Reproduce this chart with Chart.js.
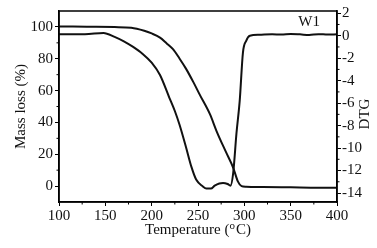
<!DOCTYPE html>
<html>
<head>
<meta charset="utf-8">
<script src="https://cdn.jsdelivr.net/npm/chart.js@4.4.0/dist/chart.umd.min.js"></script>
<style>
  html, body { margin: 0; padding: 0; background: #fff; }
</style>
</head>
<body>
<canvas id="chart1" width="377" height="248"></canvas>
<script>
// TG curve (mass loss, left axis)
const tgTemp = [100, 130, 160, 178, 192, 200, 209, 216, 223, 230, 237, 245, 252, 263, 270, 280, 288, 293, 297, 302, 320, 350, 380, 400];
const tgMass = [100.3, 100.1, 99.9, 99.5, 97.6, 95.9, 93.3, 89.8, 86, 80.2, 73.8, 65.3, 57.3, 45, 34.6, 21.6, 11.5, 3, 0, -0.4, -0.6, -0.8, -1, -1];

// DTG curve (right axis)
const dtgTemp = [100, 128, 148, 160, 170, 180, 190, 200, 209, 219, 225, 230, 237, 243, 248, 255, 259, 264, 268, 273, 277, 282, 285, 288, 291.5, 295, 298.5, 302, 306, 316, 330, 340, 350, 360, 370, 380, 390, 400];
const dtgRate = [0.14, 0.14, 0.25, -0.1, -0.5, -1.0, -1.6, -2.4, -3.5, -5.5, -6.7, -7.9, -9.9, -11.7, -12.8, -13.4, -13.6, -13.6, -13.35, -13.15, -13.1, -13.2, -13.35, -12.2, -8.7, -5.8, -1.5, -0.45, 0, 0.08, 0.12, 0.1, 0.16, 0.12, 0.06, 0.14, 0.1, 0.12];

// tick labels
const tempTicks = [100, 150, 200, 250, 300, 350, 400];
const massTicks = [0, 20, 40, 60, 80, 100];
const dtgTicks = [2, 0, -2, -4, -6, -8, -10, -12, -14];
const tempMinor = [125, 175, 225, 275, 325, 375];
const massMinor = [10, 30, 50, 70, 90];
const dtgMinor = [1, -1, -3, -5, -7, -9, -11, -13];

const serif = 'Liberation Serif';
const ink = '#111';

const frame = {
    id: 'frame',
    afterDraw(chart) {
        const {ctx, chartArea: a, scales} = chart;
        ctx.save();
        ctx.strokeStyle = '#000';
        ctx.lineWidth = 1.5;
        ctx.strokeRect(a.left, a.top, a.right - a.left, a.bottom - a.top);
        // minor ticks
        ctx.lineWidth = 1;
        ctx.beginPath();
        tempMinor.forEach(v => {
            const p = scales.x.getPixelForValue(v);
            ctx.moveTo(p, a.bottom); ctx.lineTo(p, a.bottom + 2.5);
        });
        massMinor.forEach(v => {
            const p = scales.y.getPixelForValue(v);
            ctx.moveTo(a.left, p); ctx.lineTo(a.left - 2.5, p);
        });
        dtgMinor.forEach(v => {
            const p = scales.y2.getPixelForValue(v);
            ctx.moveTo(a.right, p); ctx.lineTo(a.right + 2.5, p);
        });
        ctx.stroke();

        ctx.fillStyle = ink;
        ctx.textBaseline = 'middle';

        // x axis title with superscript o
        const big = '15px ' + serif, small = '11px ' + serif;
        const p1 = 'Temperature (', p2 = 'o', p3 = 'C)';
        ctx.font = big;
        const w1 = ctx.measureText(p1).width, w3 = ctx.measureText(p3).width;
        ctx.font = small;
        const w2 = ctx.measureText(p2).width + 1;
        let x0 = (a.left + a.right) / 2 - (w1 + w2 + w3) / 2;
        const ty = 230;
        ctx.textAlign = 'left';
        ctx.font = big; ctx.fillText(p1, x0, ty);
        ctx.font = small; ctx.fillText(p2, x0 + w1, ty - 4);
        ctx.font = big; ctx.fillText(p3, x0 + w1 + w2, ty);

        // sample label
        ctx.textAlign = 'center';
        ctx.font = big;
        ctx.fillText('W1', scales.x.getPixelForValue(370), scales.y.getPixelForValue(103));

        // right axis title, reading bottom to top
        ctx.translate(365, 114);
        ctx.rotate(-Math.PI / 2);
        ctx.fillText('DTG', 0, 0);
        ctx.restore();
    }
};

const ctx1 = document.getElementById('chart1').getContext('2d');
new Chart(ctx1, {
    type: 'line',
    data: {
        datasets: [{
            label: 'TG',
            data: tgTemp.map((t, i) => ({x: t, y: tgMass[i]})),
            yAxisID: 'y',
            borderColor: ink,
            borderWidth: 2,
            pointRadius: 0,
            cubicInterpolationMode: 'monotone',
            fill: false
        }, {
            label: 'DTG',
            data: dtgTemp.map((t, i) => ({x: t, y: dtgRate[i]})),
            yAxisID: 'y2',
            borderColor: ink,
            borderWidth: 2,
            pointRadius: 0,
            cubicInterpolationMode: 'monotone',
            fill: false
        }]
    },
    options: {
        responsive: false,
        animation: false,
        layout: { padding: { top: 8 } },
        plugins: { legend: { display: false }, tooltip: { enabled: false } },
        scales: {
            x: {
                type: 'linear',
                min: 100, max: 400,
                afterFit: s => { s.height = 46; },
                afterBuildTicks: s => { s.ticks = tempTicks.map(v => ({value: v})); },
                grid: { drawOnChartArea: false, drawTicks: true, tickLength: 4, color: '#000' },
                border: { display: true, color: '#000', width: 1.5 },
                ticks: { font: { family: serif, size: 15 }, color: ink, padding: 1, maxRotation: 0 }
            },
            y: {
                position: 'left',
                min: -10, max: 110,
                afterFit: s => { s.width = 59; },
                afterBuildTicks: s => { s.ticks = massTicks.map(v => ({value: v})); },
                grid: { drawOnChartArea: false, drawTicks: true, tickLength: 4, color: '#000' },
                border: { display: true, color: '#000', width: 1.5 },
                ticks: { font: { family: serif, size: 15 }, color: ink, padding: 2 },
                title: { display: true, text: 'Mass loss (%)', font: { family: serif, size: 15 }, color: ink, padding: { top: 12 } }
            },
            y2: {
                position: 'right',
                min: -14.8, max: 2.2,
                afterFit: s => { s.width = 40; },
                afterBuildTicks: s => { s.ticks = dtgTicks.map(v => ({value: v})); },
                grid: { drawOnChartArea: false, drawTicks: true, tickLength: 4, color: '#000' },
                border: { display: true, color: '#000', width: 1.5 },
                ticks: { font: { family: serif, size: 15 }, color: ink, padding: 1 }
            }
        }
    },
    plugins: [frame]
});
</script>
</body>
</html>
